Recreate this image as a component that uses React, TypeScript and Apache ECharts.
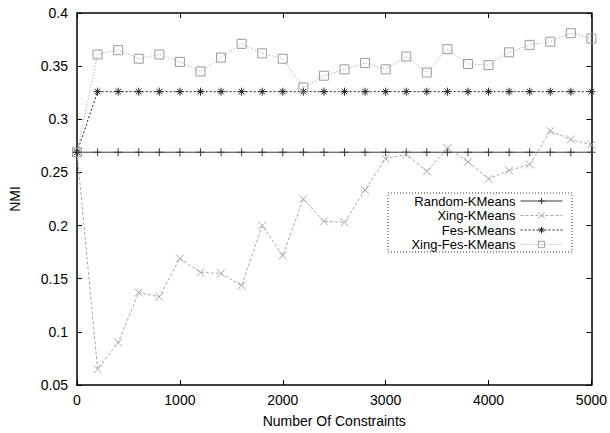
import React, { useEffect, useRef } from "react";
import * as echarts from "echarts";

const constraints = [0, 200, 400, 600, 800, 1000, 1200, 1400, 1600, 1800, 2000, 2200, 2400, 2600, 2800, 3000, 3200, 3400, 3600, 3800, 4000, 4200, 4400, 4600, 4800, 5000];
const randomKMeans = [0.269, 0.269, 0.269, 0.269, 0.269, 0.269, 0.269, 0.269, 0.269, 0.269, 0.269, 0.269, 0.269, 0.269, 0.269, 0.269, 0.269, 0.269, 0.269, 0.269, 0.269, 0.269, 0.269, 0.269, 0.269, 0.269];
const xingKMeans = [0.269, 0.065, 0.090, 0.137, 0.133, 0.169, 0.156, 0.155, 0.1435, 0.200, 0.172, 0.225, 0.204, 0.203, 0.2335, 0.263, 0.267, 0.251, 0.273, 0.260, 0.244, 0.252, 0.2575, 0.289, 0.281, 0.276];
const fesKMeans = [0.269, 0.326, 0.326, 0.326, 0.326, 0.326, 0.326, 0.326, 0.326, 0.326, 0.326, 0.326, 0.326, 0.326, 0.326, 0.326, 0.326, 0.326, 0.326, 0.326, 0.326, 0.326, 0.326, 0.326, 0.326, 0.326];
const xingFesKMeans = [0.269, 0.361, 0.365, 0.357, 0.361, 0.354, 0.345, 0.358, 0.371, 0.362, 0.357, 0.330, 0.341, 0.347, 0.353, 0.347, 0.359, 0.344, 0.366, 0.352, 0.351, 0.363, 0.370, 0.373, 0.381, 0.376];
const seriesNames = ["Random-KMeans", "Xing-KMeans", "Fes-KMeans", "Xing-Fes-KMeans"];

const FONT = "Liberation Sans, Arial, sans-serif";
const PLUS = "path://M5 0L5 10M0 5L10 5";
const CROSS = "path://M0 0L10 10M10 0L0 10";
const STAR = "path://M5 0L5 10M0 5L10 5M1.5 1.5L8.5 8.5M8.5 1.5L1.5 8.5";
const SQUARE = "path://M0 0L10 0L10 10L0 10Z";

const styles = [
  { color: "#3a3a3a", type: "solid", symbol: PLUS, size: 8 },
  { color: "#a8a8a8", type: [3, 2], symbol: CROSS, size: 8 },
  { color: "#222222", type: [2, 2], symbol: STAR, size: 8 },
  { color: "#9a9a9a", type: [1, 2], symbol: SQUARE, size: 9 },
];

function pairs(vals: number[]) {
  return constraints.map((c, i) => [c, vals[i]]);
}

export default function App() {
  const ref = useRef<HTMLDivElement>(null);
  useEffect(() => {
    if (!ref.current) return;
    const chart = echarts.init(ref.current, null, { renderer: "svg" });
    const mk = (i: number, vals: number[]) => {
      const s = styles[i];
      return {
        name: seriesNames[i],
        type: "line",
        data: pairs(vals),
        symbol: s.symbol,
        symbolSize: s.size,
        showAllSymbol: true,
        z: 2 + i,
        lineStyle: { color: s.color, width: 1, type: s.type },
        itemStyle: { color: "rgba(0,0,0,0)", borderColor: s.color, borderWidth: 1 },
        emphasis: { disabled: true },
      };
    };
    const axisCommon = {
      axisLine: { show: true, onZero: false, lineStyle: { color: "#000", width: 1.5 } },
      axisTick: { show: true, inside: true, length: 5, lineStyle: { color: "#000", width: 1 } },
      splitLine: { show: false },
    };
    const labelStyle = { fontFamily: FONT, fontSize: 14, color: "#000" };
    const legends = seriesNames.map((n, i) => ({
      orient: "horizontal",
      right: 42,
      top: 194 + i * 14.5,
      align: "right",
      itemWidth: 42,
      itemHeight: 8,
      padding: [0, 5, 0, 5],
      textStyle: { ...labelStyle, fontSize: 13, lineHeight: 14 },
      data: [
        {
          name: n,
          itemStyle: { color: "rgba(0,0,0,0)", borderColor: styles[i].color, borderWidth: 1 },
          lineStyle: { color: styles[i].color, width: 1, type: styles[i].type },
        },
      ],
    }));
    chart.setOption({
      animation: false,
      backgroundColor: "#fff",
      grid: { left: 77, right: 18, top: 13, bottom: 47.5, show: false },
      xAxis: [
        {
          type: "value",
          min: 0,
          max: 5000,
          interval: 1000,
          name: "Number Of Constraints",
          nameLocation: "middle",
          nameGap: 29,
          nameTextStyle: labelStyle,
          axisLabel: { ...labelStyle, margin: 8, formatter: (v: number) => String(v) },
          ...axisCommon,
        },
        {
          type: "value",
          position: "top",
          min: 0,
          max: 5000,
          interval: 1000,
          axisLabel: { show: false },
          ...axisCommon,
        },
      ],
      yAxis: [
        {
          type: "value",
          min: 0.05,
          max: 0.4,
          interval: 0.05,
          name: "NMI",
          nameLocation: "middle",
          nameGap: 55,
          nameTextStyle: labelStyle,
          axisLabel: {
            ...labelStyle,
            margin: 9,
            formatter: (v: number) => String(Math.round(v * 100) / 100),
          },
          ...axisCommon,
        },
        {
          type: "value",
          position: "right",
          min: 0.05,
          max: 0.4,
          interval: 0.05,
          axisLabel: { show: false },
          ...axisCommon,
        },
      ],
      legend: legends,
      graphic: [
        {
          type: "rect",
          shape: { x: 388, y: 193, width: 184, height: 59 },
          style: { fill: "none", stroke: "#333", lineWidth: 1, lineDash: [1, 2] },
          silent: true,
        },
      ],
      series: [mk(0, randomKMeans), mk(1, xingKMeans), mk(2, fesKMeans), mk(3, xingFesKMeans)],
    });
    return () => chart.dispose();
  }, []);
  return <div ref={ref} style={{ width: 610, height: 433, position: "absolute", left: 0, top: 0 }} />;
}
